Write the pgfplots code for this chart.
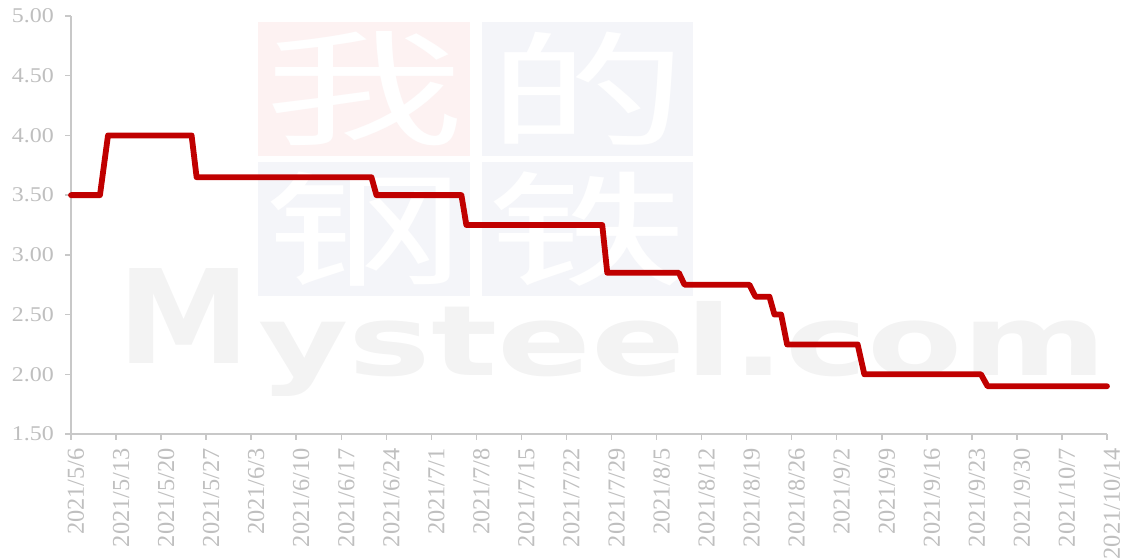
\documentclass[border=0pt]{standalone}
\usepackage{pgfplots}
\pgfplotsset{compat=1.18}
\usepackage{fontspec}
\setmainfont{Liberation Serif}
\newfontfamily\cjk{Noto Sans CJK SC}
\newfontfamily\wmfont{DejaVu Sans}
\definecolor{lblgray}{HTML}{BFBFBF}
\definecolor{axgray}{HTML}{C8C8C8}
\definecolor{linered}{HTML}{C00000}
\definecolor{wmpink}{HTML}{FDF2F2}
\definecolor{wmblue}{HTML}{F4F5F9}
\definecolor{wmgray}{HTML}{F3F3F3}
\begin{document}
\begin{tikzpicture}[x=1pt,y=1pt]
\useasboundingbox (0,0) rectangle (1124,559);
% faint watermark
\fill[wmpink] (258,403.3) rectangle (470,537.3);
\fill[wmblue] (481.7,403.3) rectangle (693.3,537.3);
\fill[wmblue] (258,263.3) rectangle (470,397.3);
\fill[wmblue] (481.7,263.3) rectangle (693.3,397.3);
\node[white, font=\cjk\fontsize{125}{125}\selectfont, xscale=1.6, inner sep=0pt] at (364,470.3) {我};
\node[white, font=\cjk\fontsize{125}{125}\selectfont, xscale=1.6, inner sep=0pt] at (587.5,470.3) {的};
\node[white, font=\cjk\fontsize{125}{125}\selectfont, xscale=1.6, inner sep=0pt] at (364,330.3) {钢};
\node[white, font=\cjk\fontsize{125}{125}\selectfont, xscale=1.6, inner sep=0pt] at (587.5,330.3) {铁};
\node[text=wmgray, anchor=base west, inner sep=0pt] at (117,196) {\resizebox{133pt}{95pt}{\wmfont\bfseries M}};
\node[text=wmgray, anchor=base west, inner sep=0pt] at (258,184) {\resizebox{849pt}{74pt}{\wmfont\bfseries ysteel.com}};
\begin{axis}[
  at={(71pt,125pt)}, anchor=south west,
  scale only axis, width=1036pt, height=418pt,
  xmin=0, xmax=161, ymin=1.5, ymax=5,
  axis x line*=bottom, axis y line*=left,
  axis line style={axgray, line width=1.5pt},
  xtick={0,7,...,161},
  xticklabels={2021/5/6,2021/5/13,2021/5/20,2021/5/27,2021/6/3,2021/6/10,2021/6/17,2021/6/24,2021/7/1,2021/7/8,2021/7/15,2021/7/22,2021/7/29,2021/8/5,2021/8/12,2021/8/19,2021/8/26,2021/9/2,2021/9/9,2021/9/16,2021/9/23,2021/9/30,2021/10/7,2021/10/14},
  ytick={1.5,2,2.5,3,3.5,4,4.5,5},
  yticklabels={1.50,2.00,2.50,3.00,3.50,4.00,4.50,5.00},
  tick align=outside, major tick length=6pt,
  tick style={axgray, line width=1.5pt},
  xticklabel style={xshift=5pt, yshift=-8pt, rotate=90, anchor=east, font=\fontsize{24.4}{24.4}\selectfont, text=lblgray, inner sep=0pt},
  yticklabel style={xshift=-11pt, anchor=east, font=\fontsize{21}{21}\selectfont, text=lblgray, xscale=1.14, inner sep=0pt},
  clip=false,
]
\addplot[linered, line width=5.8pt, line join=round, line cap=round] coordinates {
(0,3.5) (4.5,3.5) (5.75,4.0) (18.74,4.0) (19.52,3.65) (46.69,3.65) (47.47,3.5) (60.67,3.5) (61.44,3.25) (82.56,3.25) (83.34,2.85) (94.46,2.85) (95.34,2.75) (105.43,2.75) (106.37,2.65) (108.54,2.65) (109.32,2.5) (110.36,2.5) (111.29,2.25) (122.25,2.25) (123.29,2.0) (141.41,2.0) (142.44,1.9) (161,1.9)
};
\end{axis}
\end{tikzpicture}
\end{document}
